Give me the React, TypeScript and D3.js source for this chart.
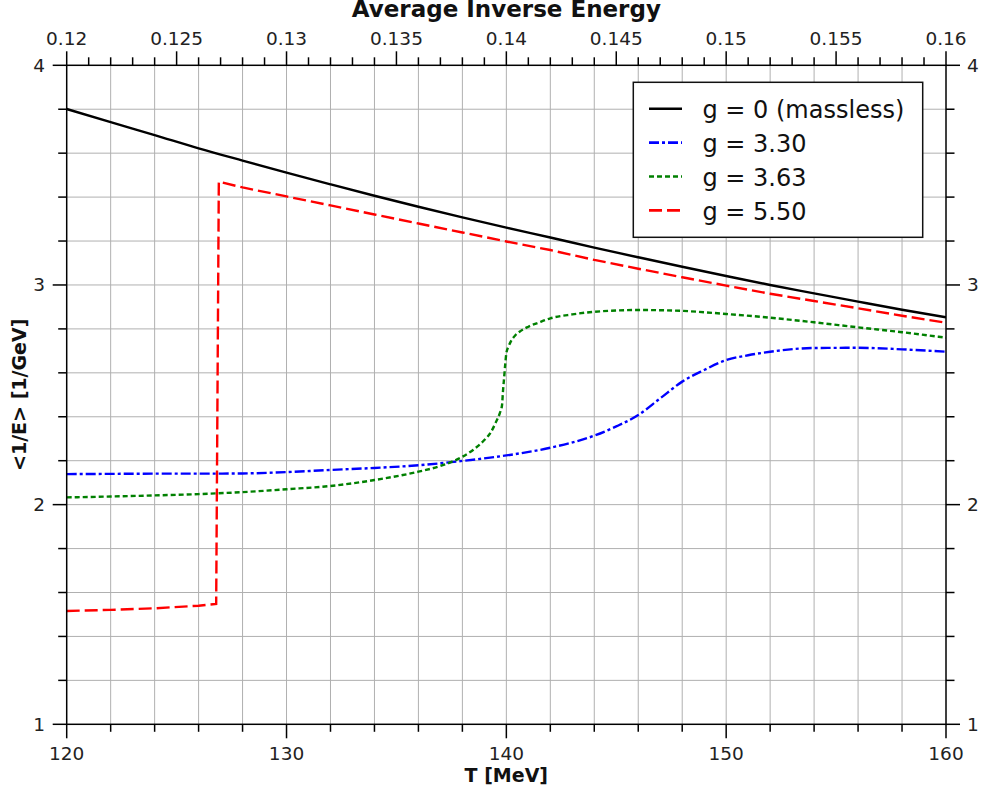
import React from "react";
import * as d3 from "d3";

// ---- data ----
const blackT = [120, 122, 124, 126, 128, 130, 132, 134, 136, 138, 140, 142, 144, 146, 148, 150, 152, 154, 156, 158, 160];
const blackV = [3.801, 3.741, 3.682, 3.622, 3.566, 3.511, 3.458, 3.406, 3.356, 3.308, 3.261, 3.216, 3.17, 3.126, 3.083, 3.041, 3.0, 2.962, 2.924, 2.887, 2.853];

const blueT = [120, 122, 124, 126, 128, 130, 132, 134, 136, 138, 140, 142, 144, 145, 146, 147, 148, 149, 150, 151, 152, 154, 156, 158, 160];
const blueV = [2.139, 2.14, 2.141, 2.141, 2.142, 2.148, 2.158, 2.167, 2.179, 2.199, 2.224, 2.259, 2.314, 2.356, 2.408, 2.484, 2.56, 2.613, 2.658, 2.68, 2.696, 2.713, 2.714, 2.707, 2.696];

const greenT = [120, 122, 124, 126, 128, 130, 132, 134, 136, 137, 138, 138.5, 139, 139.3, 139.5, 139.7, 139.8, 139.85, 139.9, 139.95, 140.0, 140.1, 140.2, 140.4, 140.6, 141, 141.5, 142, 143, 144, 146, 148, 150, 152, 154, 156, 158, 160];
const greenV = [2.033, 2.037, 2.042, 2.048, 2.057, 2.07, 2.085, 2.112, 2.15, 2.176, 2.218, 2.25, 2.294, 2.33, 2.37, 2.416, 2.45, 2.52, 2.58, 2.64, 2.689, 2.72, 2.742, 2.77, 2.787, 2.81, 2.83, 2.848, 2.866, 2.878, 2.886, 2.882, 2.868, 2.851, 2.83, 2.807, 2.785, 2.76];

const redT = [120, 122, 124, 126, 126.8, 126.92, 128, 130, 132, 134, 136, 138, 140, 142, 144, 146, 148, 150, 152, 154, 156, 158, 160];
const redV = [1.516, 1.521, 1.528, 1.54, 1.548, 3.47, 3.444, 3.403, 3.362, 3.321, 3.28, 3.239, 3.198, 3.159, 3.114, 3.074, 3.035, 2.997, 2.96, 2.927, 2.894, 2.86, 2.828];

const legendLabels = ["g = 0 (massless)", "g = 3.30", "g = 3.63", "g = 5.50"];

const xMajorTicks = [120, 130, 140, 150, 160];
const xMinorTicks = [122, 124, 126, 128, 132, 134, 136, 138, 142, 144, 146, 148, 152, 154, 156, 158];
const topMajorTicks = [0.12, 0.125, 0.13, 0.135, 0.14, 0.145, 0.15, 0.155, 0.16];
const yMajorTicks = [1, 2, 3, 4];
const yMinorTicks = [1.2, 1.4, 1.6, 1.8, 2.2, 2.4, 2.6, 2.8, 3.2, 3.4, 3.6, 3.8];

const W = 981;
const H = 791;
const L = 66.7, R = 946, T = 65.3, B = 724.3;
const FONT = "DejaVu Sans";

export default function App() {
  const x = d3.scaleLinear().domain([120, 160]).range([L, R]);
  const xTop = d3.scaleLinear().domain([0.12, 0.16]).range([L, R]);
  const y = d3.scaleLinear().domain([1, 4]).range([B, T]);

  const zip = (ts: number[], vs: number[]) => ts.map((t, i) => [t, vs[i]] as [number, number]);
  const smooth = d3.line<[number, number]>().x(d => x(d[0])).y(d => y(d[1])).curve(d3.curveMonotoneX);
  const straight = d3.line<[number, number]>().x(d => x(d[0])).y(d => y(d[1]));

  const series = [
    { d: smooth(zip(blackT, blackV)), color: "#000000", dash: undefined as string | undefined, w: 2.4 },
    { d: smooth(zip(blueT, blueV)), color: "#0000ff", dash: "10,3,3,3", w: 2.4 },
    { d: smooth(zip(greenT, greenV)), color: "#008000", dash: "5,3", w: 2.4 },
    { d: straight(zip(redT, redV)), color: "#ff0000", dash: "13,5", w: 2.4 },
  ];

  const topMinor = d3.range(0, 41).map(i => 0.12 + i * 0.001).filter((_, i) => i % 5 !== 0);
  const gridX = d3.range(122, 160, 2);
  const gridY = d3.range(1.2, 4, 0.2);

  const fmtTop = (v: number) => String(+v.toFixed(3));

  return (
    <svg width={W} height={H} style={{ position: "absolute", left: 0, top: 0, background: "#fff" }} fontFamily={FONT}>
      <defs>
        <clipPath id="plotclip">
          <rect x={L} y={T} width={R - L} height={B - T} />
        </clipPath>
      </defs>
      <rect x={0} y={0} width={W} height={H} fill="#fff" />
      {/* grid */}
      <g stroke="#b0b0b0" strokeWidth={1}>
        {gridX.map(v => (
          <line key={"gx" + v} x1={x(v)} x2={x(v)} y1={T} y2={B} />
        ))}
        {gridY.map(v => (
          <line key={"gy" + v} x1={L} x2={R} y1={y(v)} y2={y(v)} />
        ))}
      </g>
      {/* series */}
      <g clipPath="url(#plotclip)" fill="none">
        {series.map((s, i) => (
          <path key={i} d={s.d || ""} stroke={s.color} strokeWidth={s.w} strokeDasharray={s.dash} />
        ))}
      </g>
      {/* frame */}
      <rect x={L} y={T} width={R - L} height={B - T} fill="none" stroke="#000" strokeWidth={1.5} />
      {/* ticks */}
      <g stroke="#000" strokeWidth={1.5}>
        {xMajorTicks.map(v => (
          <line key={"bM" + v} x1={x(v)} x2={x(v)} y1={B} y2={B + 14} />
        ))}
        {xMinorTicks.map(v => (
          <line key={"bm" + v} x1={x(v)} x2={x(v)} y1={B} y2={B + 7.5} />
        ))}
        {topMajorTicks.map(v => (
          <line key={"tM" + v} x1={xTop(v)} x2={xTop(v)} y1={T} y2={T - 14} />
        ))}
        {topMinor.map(v => (
          <line key={"tm" + v} x1={xTop(v)} x2={xTop(v)} y1={T} y2={T - 8} />
        ))}
        {yMajorTicks.map(v => (
          <g key={"yM" + v}>
            <line x1={L} x2={L - 14} y1={y(v)} y2={y(v)} />
            <line x1={R} x2={R + 14} y1={y(v)} y2={y(v)} />
          </g>
        ))}
        {yMinorTicks.map(v => (
          <g key={"ym" + v}>
            <line x1={L} x2={L - 8.5} y1={y(v)} y2={y(v)} />
            <line x1={R} x2={R + 8.5} y1={y(v)} y2={y(v)} />
          </g>
        ))}
      </g>
      {/* tick labels */}
      <g fontSize={18.5} fill="#222">
        {xMajorTicks.map(v => (
          <text key={"bl" + v} x={x(v)} y={760} textAnchor="middle">{v}</text>
        ))}
        {topMajorTicks.map(v => (
          <text key={"tl" + v} x={xTop(v)} y={45} textAnchor="middle">{fmtTop(v)}</text>
        ))}
        {yMajorTicks.map(v => (
          <g key={"yl" + v}>
            <text x={45} y={y(v) + 6.5} textAnchor="end">{v}</text>
            <text x={967} y={y(v) + 6.5} textAnchor="start">{v}</text>
          </g>
        ))}
      </g>
      {/* titles */}
      <text x={(L + R) / 2} y={17} textAnchor="middle" fontSize={23} fontWeight="bold" fill="#111">Average Inverse Energy</text>
      <text x={(L + R) / 2} y={782} textAnchor="middle" fontSize={19} fontWeight="bold" fill="#111">T [MeV]</text>
      <text transform={`translate(26, ${(T + B) / 2}) rotate(-90)`} textAnchor="middle" fontSize={19} fontWeight="bold" fill="#111">&lt;1/E&gt; [1/GeV]</text>
      {/* legend */}
      <g>
        <rect x={633.3} y={82.3} width={289.4} height={155} fill="#fff" stroke="#111" strokeWidth={1.5} />
        {series.map((s, i) => {
          const by = 118.3 + i * 33.9;
          return (
            <g key={"lg" + i}>
              <line x1={649} x2={682} y1={by - 9.6} y2={by - 9.6} stroke={s.color} strokeWidth={s.w + 0.2} strokeDasharray={s.dash} />
              <text x={702.5} y={by} fontSize={24} fill="#111">{legendLabels[i]}</text>
            </g>
          );
        })}
      </g>
    </svg>
  );
}
